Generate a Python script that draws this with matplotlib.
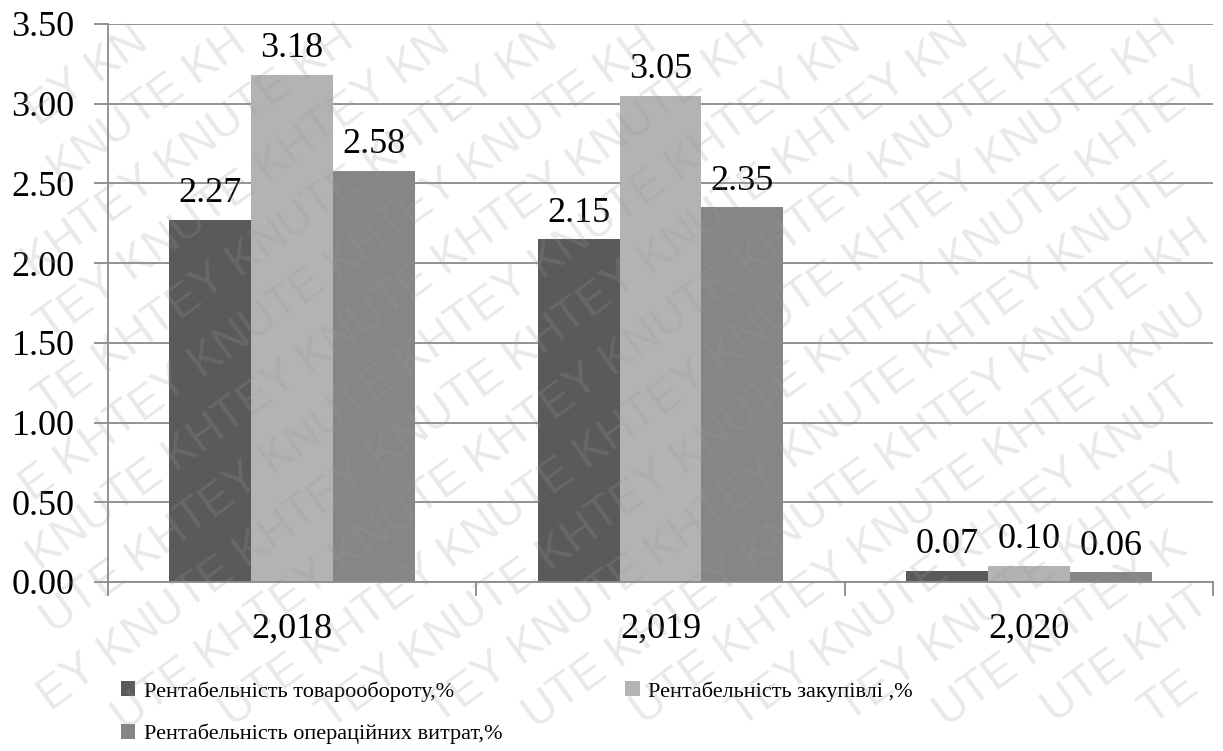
import numpy as np
import matplotlib
matplotlib.use("Agg")
import matplotlib.pyplot as plt
from matplotlib.transforms import IdentityTransform
from matplotlib.ticker import FormatStrFormatter
from matplotlib.font_manager import FontProperties

# Data
years = ["2,018", "2,019", "2,020"]
series_names = [
    "Рентабельність товарообороту,%",
    "Рентабельність закупівлі ,%",
    "Рентабельність операційних витрат,%",
]
turnover = [2.27, 2.15, 0.07]
purchases = [3.18, 3.05, 0.10]
operating = [2.58, 2.35, 0.06]
y_ticks = [0.0, 0.5, 1.0, 1.5, 2.0, 2.5, 3.0, 3.5]

colors = ["#5a5a5a", "#b3b3b3", "#868686"]
grid_color = "#8a8a8a"

serif = ["Liberation Serif", "DejaVu Serif"]
plt.rcParams["font.family"] = serif

W, H = 1223, 751
fig = plt.figure(figsize=(W / 100, H / 100), dpi=100)
ax = fig.add_axes([108 / W, 1 - 582 / H, (1213 - 108) / W, (582 - 24) / H])

x = np.arange(len(years))
n = 3
bw = 1.0 / (n + 1.5)
offsets = (np.arange(n) - (n - 1) / 2) * bw

for vals, off, col, name in zip([turnover, purchases, operating], offsets, colors, series_names):
    bars = ax.bar(x + off, vals, width=bw, color=col, label=name, zorder=2)
    ax.bar_label(bars, fmt="%.2f", padding=7, fontsize=26, family=serif)

ax.set_xlim(-0.5, len(years) - 0.5)
ax.set_ylim(0, 3.5)
ax.set_yticks(y_ticks)
ax.yaxis.set_major_formatter(FormatStrFormatter("%.2f"))
ax.set_xticks(x)
ax.set_xticklabels(years)
ax.set_xticks(np.arange(len(years) + 1) - 0.5, minor=True)

ax.grid(axis="y", color=grid_color, linewidth=1.3, zorder=0)
ax.set_axisbelow(True)
for s in ["top", "right"]:
    ax.spines[s].set_visible(False)
for s in ["left", "bottom"]:
    ax.spines[s].set_color(grid_color)
    ax.spines[s].set_linewidth(1.3)

ax.tick_params(axis="y", length=10, width=1.3, color=grid_color, labelsize=26, pad=14)
ax.tick_params(axis="x", which="major", length=0, labelsize=26, pad=22)
ax.tick_params(axis="x", which="minor", length=10, width=1.3, color=grid_color)

handles, labels = ax.get_legend_handles_labels()
order = [0, 2, 1]
leg = fig.legend(
    [handles[i] for i in order], [labels[i] for i in order],
    loc="upper left", bbox_to_anchor=(121 / W, 1 - 681 / H),
    ncol=2, frameon=False, prop=FontProperties(family=serif, size=16),
    borderpad=0, borderaxespad=0,
    handlelength=0.65, handleheight=0.65, handletextpad=0.4,
    labelspacing=1.0, columnspacing=5.5,
)

# Diagonal watermark, laid out letter by letter across the sheet
wm_size = 33
em = wm_size * 100 / 72
adv = {"K": 0.667, "H": 0.722, "T": 0.611, "E": 0.667, "Y": 0.667,
       "N": 0.722, "U": 0.722, " ": 0.278}
theta_deg = 36
theta = np.deg2rad(theta_deg)
u = np.array([np.cos(theta), np.sin(theta)])
nrm = np.array([-np.sin(theta), np.cos(theta)])
center = np.array([W / 2, H / 2])
pattern = "KHTEY KNUTE "
row_pitch = 60
for k in range(-16, 17):
    start = center + k * row_pitch * nrm - 1500 * u + (k % 2) * 90 * u
    pos = 0.0
    i = 0
    while pos < 3000:
        ch = pattern[i % len(pattern)]
        w = adv[ch] * em
        if ch != " ":
            p = start + pos * u
            lo = p - 0.25 * em * nrm
            hi = p + 0.95 * em * nrm
            corners = [lo, lo + w * u, hi, hi + w * u]
            if all(2 < c[0] < W - 2 and 2 < c[1] < H - 2 for c in corners):
                fig.text(p[0], p[1], ch, transform=IdentityTransform(),
                         rotation=theta_deg, rotation_mode="anchor",
                         ha="left", va="baseline", fontsize=wm_size,
                         family="Liberation Sans", color="#999999",
                         alpha=0.22, zorder=10)
        pos += w
        i += 1

fig.savefig("out.png", dpi=100)
